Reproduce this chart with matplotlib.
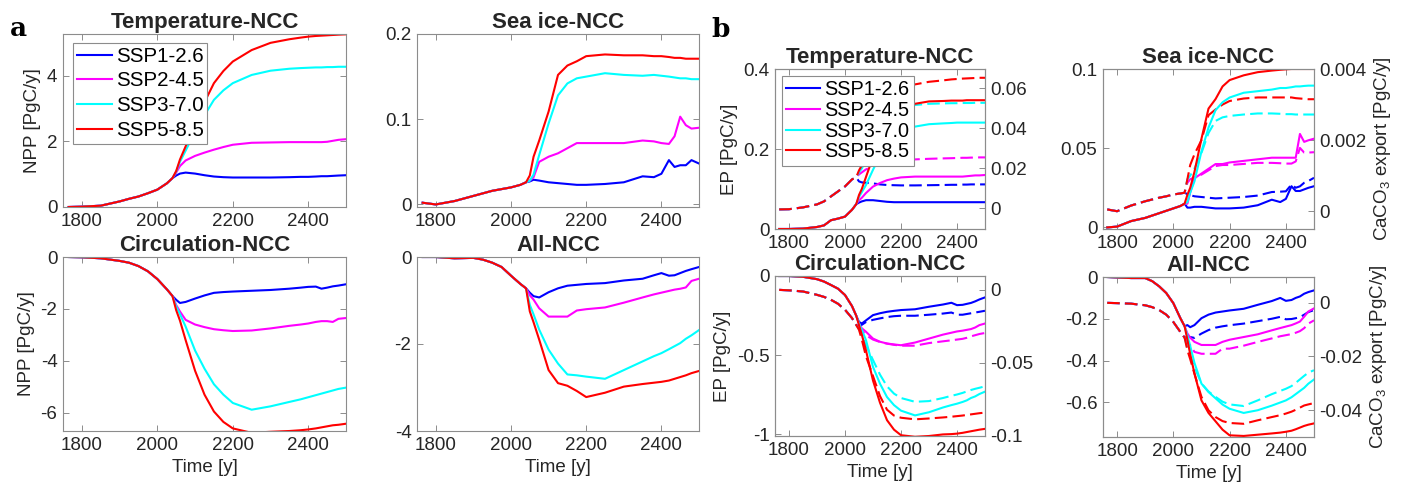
import numpy as np
import matplotlib.pyplot as plt
from matplotlib.ticker import FormatStrFormatter

plt.rcParams['font.family'] = ['Liberation Sans', 'DejaVu Sans']
plt.rcParams['mathtext.default'] = 'regular'
plt.rcParams['axes.unicode_minus'] = False

scenarios = ['SSP1-2.6', 'SSP2-4.5', 'SSP3-7.0', 'SSP5-8.5']
colors = [(0, 0, 1), (1, 0, 1), (0, 1, 1), (1, 0, 0)]

# shared historical years, then scenario years
hist_yr = [1765, 1800, 1850, 1900, 1925, 1950, 1975, 2000, 2025, 2040]
fut_yr = [2050, 2060, 2075, 2100, 2125, 2150, 2175, 2200, 2250, 2300,
          2350, 2380, 2400, 2420, 2435, 2450, 2465, 2480, 2500]

# ---- a: NPP [PgC/y] ----
npp_temp_hist = [0, 0.01, 0.04, 0.17, 0.25, 0.32, 0.42, 0.53, 0.72, 0.88]
npp_temp_fut = [  # SSP1-2.6, SSP2-4.5, SSP3-7.0, SSP5-8.5
    [0.96, 1.02, 1.05, 1.02, 0.97, 0.93, 0.91, 0.9, 0.9, 0.9, 0.91, 0.92, 0.92, 0.93, 0.94, 0.94, 0.95, 0.96, 0.97],
    [1.05, 1.25, 1.42, 1.56, 1.66, 1.75, 1.83, 1.9, 1.96, 1.97, 1.98, 1.98, 1.98, 1.98, 1.98, 1.99, 2.02, 2.05, 2.07],
    [1.08, 1.38, 1.72, 2.3, 2.8, 3.27, 3.56, 3.78, 4.03, 4.16, 4.22, 4.24, 4.25, 4.26, 4.26, 4.27, 4.27, 4.28, 4.28],
    [1.1, 1.45, 1.85, 2.56, 3.2, 3.78, 4.15, 4.44, 4.79, 5.01, 5.12, 5.17, 5.2, 5.22, 5.23, 5.24, 5.25, 5.26, 5.27],
]
npp_ice_hist = [0.002, 0.0, 0.004, 0.01, 0.013, 0.016, 0.018, 0.02, 0.023, 0.026]
npp_ice_fut = [
    [0.027, 0.029, 0.028, 0.026, 0.025, 0.024, 0.023, 0.023, 0.024, 0.026, 0.033, 0.032, 0.036, 0.052, 0.044, 0.046, 0.046, 0.052, 0.048],
    [0.028, 0.032, 0.05, 0.056, 0.06, 0.066, 0.072, 0.072, 0.072, 0.072, 0.075, 0.074, 0.072, 0.071, 0.08, 0.103, 0.093, 0.089, 0.09],
    [0.028, 0.035, 0.058, 0.095, 0.128, 0.142, 0.148, 0.15, 0.154, 0.152, 0.151, 0.152, 0.151, 0.15, 0.149, 0.148, 0.148, 0.147, 0.147],
    [0.034, 0.056, 0.075, 0.109, 0.152, 0.163, 0.168, 0.174, 0.176, 0.175, 0.175, 0.174, 0.174, 0.173, 0.172, 0.172, 0.171, 0.171, 0.171],
]
npp_circ_hist = [0, -0.01, -0.05, -0.15, -0.22, -0.35, -0.55, -0.85, -1.24, -1.5]
npp_circ_fut = [
    [-1.65, -1.77, -1.73, -1.6, -1.48, -1.38, -1.35, -1.33, -1.3, -1.27, -1.22, -1.18, -1.15, -1.14, -1.22, -1.18, -1.13, -1.1, -1.05],
    [-1.85, -2.1, -2.42, -2.6, -2.7, -2.78, -2.82, -2.85, -2.83, -2.75, -2.65, -2.6, -2.56, -2.5, -2.47, -2.47, -2.5, -2.38, -2.35],
    [-1.9, -2.2, -2.68, -3.6, -4.3, -4.9, -5.3, -5.62, -5.88, -5.75, -5.58, -5.48, -5.4, -5.32, -5.26, -5.2, -5.14, -5.08, -5.03],
    [-2.05, -2.45, -3.2, -4.38, -5.3, -5.95, -6.35, -6.6, -6.77, -6.73, -6.7, -6.67, -6.64, -6.6, -6.56, -6.52, -6.48, -6.46, -6.42],
]
npp_all_hist = [0, 0, -0.03, -0.02, -0.06, -0.13, -0.23, -0.43, -0.62, -0.72]
npp_all_fut = [
    [-0.82, -0.9, -0.93, -0.81, -0.72, -0.66, -0.64, -0.62, -0.6, -0.54, -0.5, -0.42, -0.37, -0.43, -0.42, -0.37, -0.32, -0.28, -0.23],
    [-0.88, -0.98, -1.18, -1.37, -1.37, -1.37, -1.23, -1.2, -1.16, -1.05, -0.93, -0.86, -0.82, -0.78, -0.75, -0.73, -0.7, -0.55, -0.5],
    [-1.1, -1.32, -1.67, -2.13, -2.45, -2.7, -2.72, -2.75, -2.8, -2.6, -2.4, -2.28, -2.21, -2.12, -2.05, -1.98, -1.88, -1.8, -1.68],
    [-1.25, -1.5, -1.9, -2.6, -2.9, -2.96, -3.08, -3.22, -3.12, -2.98, -2.92, -2.89, -2.87, -2.84, -2.8, -2.76, -2.72, -2.67, -2.62],
]

# ---- b: EP [PgC/y] (solid) and CaCO3 export [PgC/y] (dashed) ----
ep_temp_hist = [0, 0, 0.001, 0.005, 0.009, 0.022, 0.026, 0.031, 0.048, 0.062]
ep_temp_fut = [
    [0.066, 0.069, 0.072, 0.072, 0.07, 0.068, 0.067, 0.067, 0.067, 0.067, 0.067, 0.067, 0.067, 0.067, 0.067, 0.067, 0.067, 0.067, 0.067],
    [0.072, 0.078, 0.09, 0.106, 0.115, 0.122, 0.126, 0.129, 0.131, 0.131, 0.131, 0.131, 0.131, 0.131, 0.132, 0.133, 0.134, 0.134, 0.135],
    [0.08, 0.092, 0.11, 0.148, 0.183, 0.214, 0.232, 0.243, 0.256, 0.262, 0.264, 0.265, 0.266, 0.266, 0.266, 0.266, 0.266, 0.266, 0.266],
    [0.085, 0.1, 0.13, 0.18, 0.225, 0.264, 0.284, 0.298, 0.313, 0.319, 0.32, 0.321, 0.321, 0.321, 0.322, 0.322, 0.322, 0.322, 0.322],
]
ca_temp_hist = [-0.0005, -0.0004, 0.0005, 0.002, 0.0035, 0.006, 0.0085, 0.011, 0.0145, 0.0155]
ca_temp_fut = [
    [0.0135, 0.013, 0.0128, 0.0125, 0.012, 0.0117, 0.0116, 0.0115, 0.0115, 0.0116, 0.0117, 0.0118, 0.0118, 0.0119, 0.0119, 0.012, 0.012, 0.012, 0.012],
    [0.017, 0.018, 0.0195, 0.021, 0.022, 0.0233, 0.0237, 0.024, 0.0245, 0.0248, 0.025, 0.0251, 0.0252, 0.0253, 0.0253, 0.0254, 0.0254, 0.0255, 0.0255],
    [0.018, 0.02, 0.024, 0.031, 0.037, 0.042, 0.046, 0.049, 0.0517, 0.0523, 0.0525, 0.0526, 0.0526, 0.0527, 0.0527, 0.0527, 0.0528, 0.0528, 0.0528],
    [0.019, 0.0215, 0.027, 0.036, 0.044, 0.051, 0.056, 0.0595, 0.062, 0.0633, 0.064, 0.0645, 0.0647, 0.0649, 0.065, 0.0651, 0.0652, 0.0653, 0.0653],
]
ep_ice_hist = [0, 0.0005, 0.004, 0.006, 0.0075, 0.009, 0.0105, 0.012, 0.0135, 0.015]
ep_ice_fut = [
    [0.0125, 0.0125, 0.013, 0.013, 0.0125, 0.012, 0.012, 0.012, 0.0125, 0.014, 0.0175, 0.016, 0.018, 0.026, 0.023, 0.023, 0.024, 0.025, 0.026],
    [0.015, 0.022, 0.031, 0.034, 0.037, 0.04, 0.04, 0.041, 0.042, 0.043, 0.044, 0.044, 0.044, 0.044, 0.044, 0.059, 0.054, 0.055, 0.056],
    [0.016, 0.022, 0.029, 0.048, 0.063, 0.074, 0.079, 0.082, 0.085, 0.086, 0.087, 0.088, 0.088, 0.0885, 0.089, 0.089, 0.0893, 0.0895, 0.0895],
    [0.0206, 0.025, 0.035, 0.056, 0.075, 0.081, 0.089, 0.093, 0.096, 0.098, 0.099, 0.0995, 0.0998, 0.1, 0.1, 0.1, 0.1, 0.1, 0.1],
]
ca_ice_hist = [0.00005, 0.0, 0.00016, 0.00028, 0.00033, 0.00038, 0.00042, 0.00047, 0.0005, 0.00052]
ca_ice_fut = [
    [0.00048, 0.00045, 0.00042, 0.0004, 0.00038, 0.00036, 0.00037, 0.00038, 0.0004, 0.00044, 0.00054, 0.00055, 0.00056, 0.00075, 0.00066, 0.0007, 0.0008, 0.00085, 0.00094],
    [0.0008, 0.0009, 0.00095, 0.00103, 0.00115, 0.00127, 0.0013, 0.0013, 0.00133, 0.00136, 0.00136, 0.00135, 0.00134, 0.00134, 0.0014, 0.00178, 0.00165, 0.00165, 0.00166],
    [0.0009, 0.001, 0.0012, 0.00164, 0.0022, 0.00254, 0.00264, 0.00268, 0.00272, 0.00275, 0.00275, 0.00274, 0.00273, 0.00273, 0.00272, 0.00272, 0.00272, 0.00272, 0.00272],
    [0.0009, 0.0013, 0.0016, 0.002, 0.0027, 0.00286, 0.003, 0.0031, 0.00317, 0.0032, 0.0032, 0.0032, 0.0032, 0.0032, 0.00318, 0.00317, 0.00316, 0.00315, 0.00315],
]
ep_circ_hist = [0, 0, -0.005, -0.02, -0.035, -0.057, -0.08, -0.12, -0.19, -0.25]
ep_circ_fut = [
    [-0.29, -0.3, -0.28, -0.247, -0.235, -0.226, -0.22, -0.215, -0.21, -0.194, -0.18, -0.169, -0.184, -0.182, -0.176, -0.17, -0.16, -0.148, -0.135],
    [-0.3, -0.33, -0.352, -0.395, -0.415, -0.426, -0.432, -0.437, -0.42, -0.395, -0.37, -0.358, -0.35, -0.345, -0.34, -0.335, -0.325, -0.31, -0.3],
    [-0.3, -0.34, -0.405, -0.574, -0.68, -0.764, -0.815, -0.85, -0.88, -0.86, -0.83, -0.815, -0.806, -0.795, -0.785, -0.77, -0.76, -0.745, -0.73],
    [-0.31, -0.37, -0.47, -0.66, -0.8, -0.91, -0.97, -1.005, -1.015, -1.01, -1.0, -0.998, -0.995, -0.99, -0.985, -0.98, -0.975, -0.97, -0.965],
]
ca_circ_hist = [0, -0.0003, -0.0011, -0.0034, -0.0048, -0.0068, -0.0095, -0.0136, -0.0193, -0.024]
ca_circ_fut = [
    [-0.025, -0.0239, -0.022, -0.0205, -0.0195, -0.0186, -0.018, -0.0177, -0.0177, -0.017, -0.0162, -0.0155, -0.017, -0.017, -0.0165, -0.016, -0.0155, -0.015, -0.0143],
    [-0.026, -0.028, -0.031, -0.034, -0.0357, -0.0368, -0.0376, -0.0382, -0.0382, -0.0364, -0.0352, -0.0345, -0.034, -0.0335, -0.0328, -0.0318, -0.031, -0.0302, -0.0295],
    [-0.027, -0.031, -0.038, -0.048, -0.058, -0.066, -0.071, -0.074, -0.0766, -0.0761, -0.074, -0.0725, -0.0716, -0.0705, -0.0695, -0.0685, -0.0677, -0.067, -0.066],
    [-0.0273, -0.034, -0.0455, -0.059, -0.0727, -0.082, -0.086, -0.0875, -0.0886, -0.088, -0.0873, -0.0868, -0.0864, -0.086, -0.0856, -0.0852, -0.0848, -0.0844, -0.084],
]
ep_all_hist = [0, -0.002, -0.005, -0.005, -0.02, -0.045, -0.077, -0.125, -0.197, -0.235]
ep_all_fut = [
    [-0.23, -0.24, -0.23, -0.197, -0.18, -0.17, -0.165, -0.16, -0.152, -0.133, -0.115, -0.1, -0.114, -0.11, -0.1, -0.093, -0.08, -0.072, -0.064],
    [-0.27, -0.29, -0.31, -0.325, -0.325, -0.325, -0.31, -0.3, -0.287, -0.274, -0.255, -0.244, -0.237, -0.23, -0.222, -0.213, -0.19, -0.165, -0.15],
    [-0.28, -0.33, -0.41, -0.51, -0.55, -0.58, -0.61, -0.63, -0.65, -0.637, -0.615, -0.6, -0.59, -0.575, -0.56, -0.545, -0.53, -0.51, -0.49],
    [-0.3, -0.37, -0.46, -0.59, -0.65, -0.69, -0.73, -0.757, -0.76, -0.754, -0.748, -0.744, -0.74, -0.735, -0.728, -0.72, -0.712, -0.706, -0.7],
]
ca_all_hist = [-0.0001, -0.0002, -0.0004, -0.001, -0.0017, -0.0028, -0.0045, -0.0072, -0.0109, -0.013]
ca_all_fut = [
    [-0.0128, -0.0128, -0.0131, -0.0115, -0.0102, -0.0093, -0.0088, -0.0084, -0.0078, -0.0069, -0.006, -0.0053, -0.0062, -0.0061, -0.0058, -0.0054, -0.0045, -0.0035, -0.0028],
    [-0.015, -0.0158, -0.0183, -0.019, -0.019, -0.019, -0.0171, -0.0171, -0.016, -0.0146, -0.0133, -0.0125, -0.0121, -0.0117, -0.0112, -0.0106, -0.0095, -0.0078, -0.0066],
    [-0.017, -0.02, -0.0239, -0.03, -0.033, -0.035, -0.0368, -0.0378, -0.0384, -0.0363, -0.034, -0.0328, -0.032, -0.031, -0.0298, -0.0285, -0.0272, -0.026, -0.0251],
    [-0.0177, -0.021, -0.0264, -0.035, -0.04, -0.0425, -0.044, -0.0447, -0.045, -0.0437, -0.0425, -0.0418, -0.0412, -0.0405, -0.0398, -0.039, -0.0382, -0.0378, -0.0373],
]

SPINE = '#8c8c8c'
TXT = '#262626'
FS = 13.5
years = np.r_[hist_yr, fut_yr]


def style(ax, yticks, ylim, right=True):
    ax.set_xlim(1750, 2500)
    ax.set_xticks([1800, 2000, 2200, 2400])
    ax.set_ylim(*ylim)
    ax.set_yticks(yticks)
    ax.yaxis.set_major_formatter(FormatStrFormatter('%g'))
    ax.tick_params(direction='in', length=4.5, width=0.7, color=SPINE,
                   labelsize=FS, labelcolor=TXT, top=True, right=right, pad=4)
    for s in ax.spines.values():
        s.set_color(SPINE)
        s.set_linewidth(0.8)


def draw(ax, hist, futs, dashed=False):
    lines = []
    for f, c, lab in zip(futs, colors, scenarios):
        kw = dict(dashes=(6, 2.5)) if dashed else {}
        ln, = ax.plot(years, np.r_[hist, f], color=c, lw=1.5, label=lab, **kw)
        lines.append(ln)
    return lines


def title(ax, text):
    ax.set_title(text, fontsize=16, fontweight='bold', color=TXT, pad=4)


def legend(ax, lns, anchor, fs, spacing, pad):
    leg = ax.legend(handles=lns, loc='upper left', bbox_to_anchor=anchor,
                    borderaxespad=0, fontsize=fs, frameon=True, fancybox=False,
                    edgecolor=SPINE, framealpha=1, handlelength=1.7,
                    handletextpad=0.2, labelspacing=spacing, borderpad=pad)
    leg.get_frame().set_linewidth(0.8)


fig = plt.figure(figsize=(14.13, 4.93), dpi=100)
W, H = 1413.0, 493.0


def box(x0, y0, x1, y1):
    return [x0 / W, 1 - y1 / H, (x1 - x0) / W, (y1 - y0) / H]


# ---------- panel a ----------
ax = fig.add_axes(box(63, 34, 346, 207))
lns = draw(ax, npp_temp_hist, npp_temp_fut)
style(ax, [0, 2, 4], (0, 5.28))
title(ax, 'Temperature-NCC')
ax.set_ylabel('NPP [PgC/y]', fontsize=FS, color=TXT)
legend(ax, lns, (0.035, 0.948), 14.8, 0.28, 0.18)

ax = fig.add_axes(box(417, 34, 699, 207))
draw(ax, npp_ice_hist, npp_ice_fut)
style(ax, [0, 0.1, 0.2], (-0.003, 0.2))
title(ax, 'Sea ice-NCC')

ax = fig.add_axes(box(63, 257, 346, 431))
draw(ax, npp_circ_hist, npp_circ_fut)
style(ax, [-6, -4, -2, 0], (-6.7, 0))
title(ax, 'Circulation-NCC')
ax.set_ylabel('NPP [PgC/y]', fontsize=FS, color=TXT)
ax.set_xlabel('Time [y]', fontsize=FS, color=TXT)

ax = fig.add_axes(box(417, 257, 699, 431))
draw(ax, npp_all_hist, npp_all_fut)
style(ax, [-4, -2, 0], (-4, 0))
title(ax, 'All-NCC')
ax.set_xlabel('Time [y]', fontsize=FS, color=TXT)

# ---------- panel b ----------
b_panels = [
    ((775, 69, 985, 229), ep_temp_hist, ep_temp_fut, ca_temp_hist, ca_temp_fut,
     [0, 0.2, 0.4], (0, 0.4), [0, 0.02, 0.04, 0.06], (-0.0103, 0.0697), 'Temperature-NCC'),
    ((1103, 69, 1314, 229), ep_ice_hist, ep_ice_fut, ca_ice_hist, ca_ice_fut,
     [0, 0.05, 0.1], (-0.001, 0.1), [0, 0.002, 0.004], (-0.0005, 0.004), 'Sea ice-NCC'),
    ((775, 276, 985, 436), ep_circ_hist, ep_circ_fut, ca_circ_hist, ca_circ_fut,
     [-1, -0.5, 0], (-1.01, 0), [-0.1, -0.05, 0], (-0.0998, 0.0095), 'Circulation-NCC'),
    ((1103, 277, 1314, 437), ep_all_hist, ep_all_fut, ca_all_hist, ca_all_fut,
     [-0.6, -0.4, -0.2, 0], (-0.765, 0), [-0.04, -0.02, 0], (-0.0499, 0.0095), 'All-NCC'),
]

for i, (pos, eh, ef, ch, cf, yt, yl, yt2, yl2, ttl) in enumerate(b_panels):
    ax = fig.add_axes(box(*pos))
    ax2 = ax.twinx()
    draw(ax2, ch, cf, dashed=True)
    lns = draw(ax, eh, ef)
    ax.set_zorder(ax2.get_zorder() + 1)
    ax.patch.set_visible(False)
    style(ax, yt, yl, right=False)
    style(ax2, yt2, yl2, right=True)
    ax2.tick_params(top=False)
    title(ax, ttl)
    if i % 2 == 0:
        ax.set_ylabel('EP [PgC/y]', fontsize=FS, color=TXT)
    else:
        ax2.set_ylabel('CaCO$_3$ export [PgC/y]', fontsize=FS, color=TXT)
    if i >= 2:
        ax.set_xlabel('Time [y]', fontsize=FS, color=TXT)
    if i == 0:
        legend(ax, lns, (0.033, 0.956), 14.3, 0.08, 0.22)

fig.text(10 / W, 1 - 36 / H, 'a', fontsize=19, fontweight='bold',
         family='DejaVu Serif', va='baseline', color='black')
fig.text(711 / W, 1 - 37 / H, 'b', fontsize=19, fontweight='bold',
         family='DejaVu Serif', va='baseline', color='black')

fig.savefig('out.png', dpi=100)
